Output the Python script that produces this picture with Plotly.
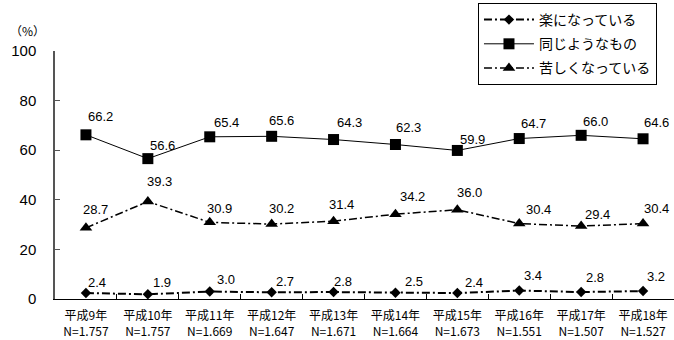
import plotly.graph_objects as go

# Survey years and respondent counts
years = ["平成9年", "平成10年", "平成11年", "平成12年", "平成13年",
         "平成14年", "平成15年", "平成16年", "平成17年", "平成18年"]
sample_n = ["1.757", "1.757", "1.669", "1.647", "1.671",
            "1.664", "1.673", "1.551", "1.507", "1.527"]

# Percentages per answer
easier = [2.4, 1.9, 3.0, 2.7, 2.8, 2.5, 2.4, 3.4, 2.8, 3.2]
same = [66.2, 56.6, 65.4, 65.6, 64.3, 62.3, 59.9, 64.7, 66.0, 64.6]
harder = [28.7, 39.3, 30.9, 30.2, 31.4, 34.2, 36.0, 30.4, 29.4, 30.4]

series_names = ["楽になっている", "同じようなもの", "苦しくなっている"]

# Pixel offsets of each value label from its point (dx, dy up)
easier_off = [(11, 11), (14, 12), (16, 12), (13, 11), (9, 11),
              (19, 11), (17, 11), (14, 15), (14, 15), (13, 15)]
same_off = [(15, 18), (15, 13), (17, 14), (10, 16), (16, 17),
            (13, 17), (15, 11), (14, 15), (14, 14), (13, 16)]
harder_off = [(10, 18), (12, 20), (10, 14), (10, 16), (8, 17),
              (17, 18), (12, 17), (19, 14), (16, 12), (13, 15)]

cats = [f"{y}<br>N={n}" for y, n in zip(years, sample_n)]

fig = go.Figure()

fig.add_trace(go.Scatter(
    x=cats, y=easier, name=series_names[0], mode="lines+markers",
    line=dict(color="black", width=2, dash="8px,3px,2px,3px"),
    marker=dict(symbol="diamond", size=8, color="black"),
    legendgroup="a",
))
fig.add_trace(go.Scatter(
    x=cats, y=same, name=series_names[1], mode="lines+markers",
    line=dict(color="black", width=1),
    marker=dict(symbol="square", size=11, color="black"),
    legendgroup="b",
))
fig.add_trace(go.Scatter(
    x=cats, y=harder, name=series_names[2], mode="lines+markers",
    line=dict(color="black", width=1.5, dash="8px,3px,2px,3px"),
    marker=dict(symbol="triangle-up", size=11, color="black"),
    legendgroup="c",
))

annotations = []
for vals, offs in ((easier, easier_off), (same, same_off), (harder, harder_off)):
    for c, v, (dx, dy) in zip(cats, vals, offs):
        annotations.append(dict(
            x=c, y=v, xref="x", yref="y", text=f"{v:.1f}",
            showarrow=False, xshift=dx, yshift=dy,
            font=dict(family="Liberation Sans", size=13, color="black"),
        ))

# unit label above the y axis
annotations.append(dict(
    x=0, y=1, xref="paper", yref="paper", text="（%）",
    xanchor="center", yanchor="middle", xshift=-28, yshift=21,
    showarrow=False, font=dict(family="Noto Sans CJK JP", size=12, color="black"),
))

fig.update_layout(
    width=674, height=340,
    margin=dict(l=55, r=0, t=51, b=41),
    paper_bgcolor="white", plot_bgcolor="white",
    showlegend=True,
    legend=dict(
        x=0.9725, xanchor="right", y=1.1935, yanchor="top",
        bgcolor="white", bordercolor="black", borderwidth=1,
        font=dict(family="Noto Sans CJK JP", size=14, color="black"),
        traceorder="grouped", tracegroupgap=3, itemwidth=50,
    ),
    annotations=annotations,
)

fig.update_xaxes(
    type="category", range=[-0.5, 9.5], automargin=False,
    showline=True, linecolor="black", linewidth=1,
    ticks="inside", tickson="boundaries", ticklen=5, tickcolor="black",
    showgrid=False, zeroline=False, ticklabelstandoff=6,
    tickfont=dict(family="Noto Sans CJK JP", size=12, color="black"),
)
fig.update_yaxes(
    range=[0, 100], tickvals=[0, 20, 40, 60, 80, 100], automargin=False,
    showline=True, linecolor="#555555", linewidth=1.5,
    ticks="inside", ticklen=5, tickcolor="#555555",
    showgrid=False, zeroline=False,
    ticklabelstandoff=14,
    tickfont=dict(family="Liberation Sans", size=15, color="black"),
)

fig.write_html("out.html")
